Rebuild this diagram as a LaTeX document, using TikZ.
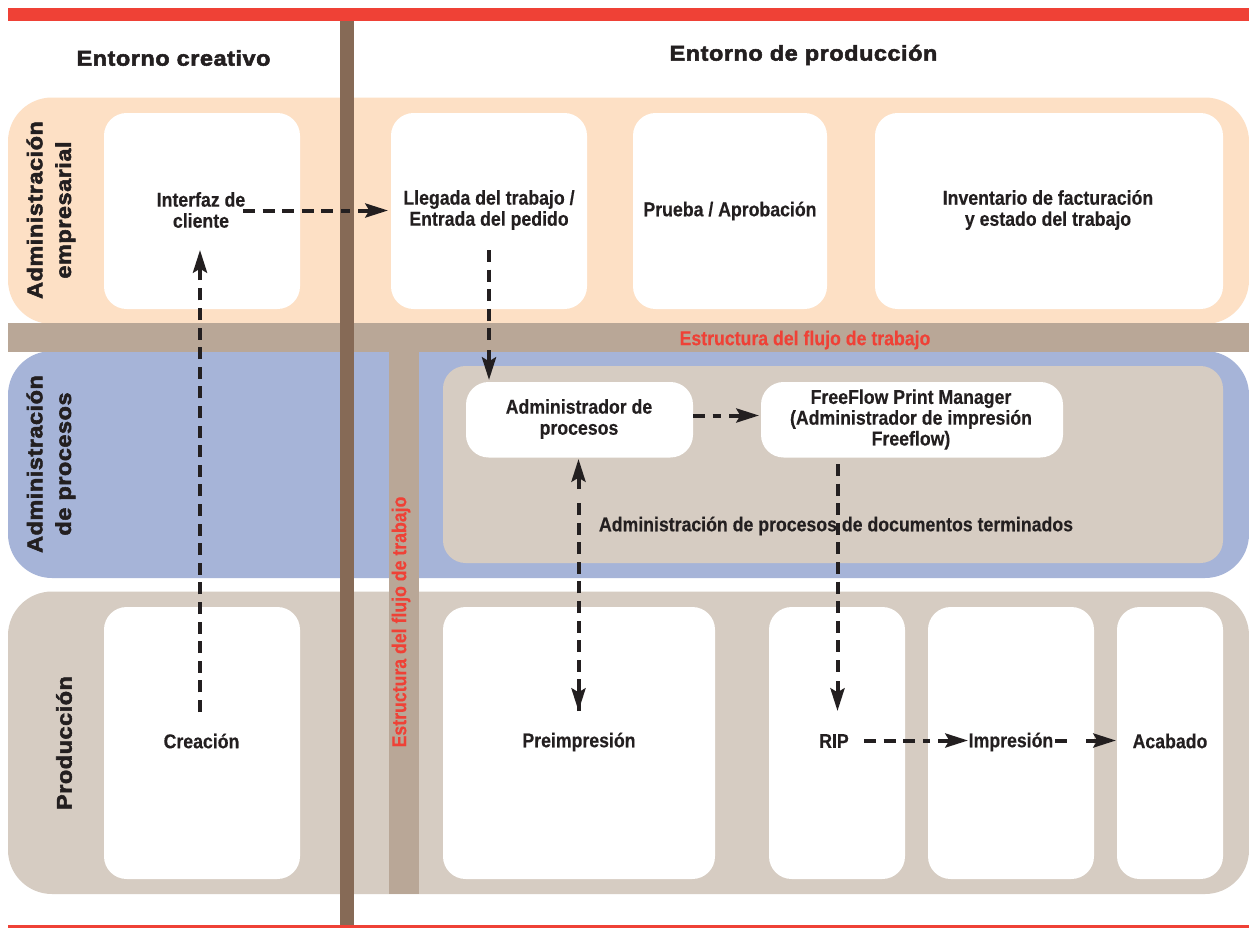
\documentclass[tikz,border=0pt]{standalone}
\usepackage{fontspec}
\usetikzlibrary{arrows.meta,calc}
\setmainfont{Liberation Sans}
\newfontfamily\bodyfont[FakeStretch=0.885,FakeBold=0.3]{Liberation Sans Bold}
\newfontfamily\headfont[FakeStretch=1.1,LetterSpace=2.5,FakeBold=2.5]{Liberation Sans Bold}
\definecolor{inkc}{HTML}{231F20}
\definecolor{redc}{HTML}{EF4136}
\definecolor{darkbrown}{HTML}{866A56}
\definecolor{bandc}{HTML}{B9A797}
\definecolor{orangec}{HTML}{FDE0C5}
\definecolor{bluec}{HTML}{A6B4D8}
\definecolor{tanc}{HTML}{D6CCC2}
\tikzset{
  x=0.75pt,y=-0.75pt,
  lane/.style={rounded corners=33pt},
  label/.style={font=\bodyfont\fontsize{15}{15.8}\selectfont,text=inkc,align=center,inner sep=0pt},
  head/.style={font=\headfont\fontsize{16}{21.5}\selectfont,text=inkc,align=center,inner sep=0pt},
  flujo/.style={font=\bodyfont\fontsize{15}{16}\selectfont,text=redc,inner sep=0pt},
  shaft/.style={draw=inkc,line width=3pt,dash pattern=on 9pt off 5.7pt},
  tip/.style={draw=inkc,line width=3pt,-{Stealth[length=17pt,width=10.5pt,inset=3pt]}}
}
\newcommand{\whitebox}[5]{% name, x0, y0, x1, y1
  \fill[white,rounded corners=17pt] (#2,#3) rectangle (#4,#5);
  \coordinate (#1) at ({(#2+#4)/2},{(#3+#5)/2});
}
% dashed connector with a solid last stretch carrying the head
\newcommand{\flowline}[3][]{%
  \draw[shaft,#1] (#2) -- ($(#3)!28.5pt!(#2)$);
  \draw[tip] ($(#3)!22.5pt!(#2)$) -- (#3);
}
\begin{document}
\begin{tikzpicture}
\useasboundingbox (0,0) rectangle (1249,928);
\fill[white] (0,0) rectangle (1249,928);
% lanes
\fill[orangec,lane] (8,97.5) rectangle (1249,324);
\fill[bluec,lane] (8,351) rectangle (1249,578);
\fill[tanc,lane] (8,591.5) rectangle (1249,894);
% inner panel
\fill[tanc,rounded corners=17pt] (443,366) rectangle (1223,563);
% structure bands
\fill[bandc] (8,323) rectangle (1249,352);
\fill[bandc] (389,352) rectangle (419,894);
% red rules and brown divider
\fill[redc] (8,7.5) rectangle (1249,21);
\fill[redc] (8,925) rectangle (1249,928);
\fill[darkbrown] (340,21) rectangle (353.5,925);
% white boxes
\whitebox{bInterfaz}{104}{113}{300}{309}
\whitebox{bLlegada}{391}{113}{587}{309}
\whitebox{bPrueba}{633}{113}{827}{309}
\whitebox{bInventario}{875}{113}{1223}{309}
\whitebox{bAdmin}{466}{382}{693}{457.5}
\whitebox{bFree}{761}{382}{1063}{457.5}
\whitebox{bCreacion}{104}{607}{300}{879}
\whitebox{bPre}{443}{607}{715}{879}
\whitebox{bRip}{769}{607}{905}{879}
\whitebox{bImp}{928}{607}{1094}{879}
\whitebox{bAcab}{1117}{607}{1223}{879}
% headings
\node[head] (hCreativo) at (173.5,58) {Entorno creativo};
\node[head] (hProd) at (803.5,55) {Entorno de producción};
\node[head,rotate=90] (hEmp) at (51,210) {Administración\\empresarial};
\node[head,rotate=90] (hProc) at (51,464) {Administración\\de procesos};
\node[head,rotate=90] (hProdu) at (64,743) {Producción};
% flujo labels
\node[flujo] (fH) at (805,340) {Estructura del flujo de trabajo};
\node[flujo,rotate=90] (fV) at (401,622) {Estructura del flujo de trabajo};
% box labels
\node[label] (tInterfaz) at (201,210) {Interfaz de\\cliente};
\node[label] (tLlegada) at (489,210) {Llegada del trabajo /\\Entrada del pedido};
\node[label] (tPrueba) at (730,211) {Prueba / Aprobación};
\node[label] (tInventario) at (1048,210) {Inventario de facturación\\y estado del trabajo};
\node[label] (tAdmin) at (579,419) {Administrador de\\procesos};
\node[label,font=\bodyfont\fontsize{15}{15.6}\selectfont] (tFree) at (911,419.5) {FreeFlow Print Manager\\(Administrador de impresión\\Freeflow)};
\node[label] (tDocs) at (836,526) {Administración de procesos de documentos terminados};
\node[label] (tCreacion) at (201.5,741) {Creación};
\node[label] (tPre) at (579,742) {Preimpresión};
\node[label] (tRip) at (834,741) {RIP};
\node[label] (tImp) at (1011,742) {Impresión};
\node[label] (tAcab) at (1170,741) {Acabado};
% connector ends
\coordinate (cI) at (243,210.5);
\coordinate (cL) at (388,210.5);
\coordinate (cUpS) at (200,712);
\coordinate (cUpE) at (200,250);
\coordinate (cDnS) at (489,250);
\coordinate (cDnE) at (489,380);
\coordinate (cAS) at (693,415.5);
\coordinate (cAE) at (759,415.5);
\coordinate (cBiA) at (578.5,459);
\coordinate (cBiB) at (578.5,711);
\coordinate (cFS) at (837.5,464);
\coordinate (cFE) at (837.5,711);
\coordinate (cRS) at (864,740.5);
\coordinate (cRE) at (968,740.5);
\coordinate (cIS) at (1055,740.5);
\coordinate (cIE) at (1116,740.5);
% connectors
\flowline{cI}{cL}
\flowline{cUpS}{cUpE}
\flowline{cDnS}{cDnE}
\flowline{cAS}{cAE}
\flowline{cBiB}{cBiA}
\draw[tip] ($(cBiB)!22.5pt!(cBiA)$) -- (cBiB);
\flowline{cFS}{cFE}
\flowline{cRS}{cRE}
\flowline[dash pattern=on 9pt off 100pt]{cIS}{cIE}
\end{tikzpicture}
\end{document}
